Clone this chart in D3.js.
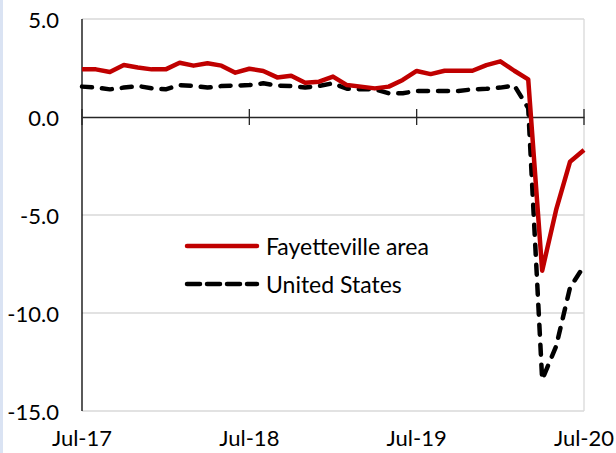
<!DOCTYPE html>
<html><head><meta charset="utf-8">
<script src="https://cdn.jsdelivr.net/npm/d3@7"></script>
<style>body{margin:0;background:#fff}svg{display:block}text{font-family:Lato,"Open Sans",sans-serif;fill:#000}</style>
</head><body><svg id="c" width="616" height="453"></svg>
<script>
const months = ["Jul-17","Aug-17","Sep-17","Oct-17","Nov-17","Dec-17","Jan-18","Feb-18","Mar-18","Apr-18","May-18","Jun-18",
"Jul-18","Aug-18","Sep-18","Oct-18","Nov-18","Dec-18","Jan-19","Feb-19","Mar-19","Apr-19","May-19","Jun-19",
"Jul-19","Aug-19","Sep-19","Oct-19","Nov-19","Dec-19","Jan-20","Feb-20","Mar-20","Apr-20","May-20","Jun-20","Jul-20"];
const fayetteville = [2.43,2.43,2.30,2.65,2.53,2.43,2.43,2.77,2.62,2.74,2.62,2.26,2.46,2.35,2.02,2.11,1.75,1.80,2.06,1.63,
1.55,1.46,1.55,1.89,2.35,2.19,2.36,2.36,2.36,2.65,2.84,2.36,1.92,-7.84,-4.74,-2.28,-1.68];
const unitedStates = [1.55,1.50,1.41,1.50,1.58,1.47,1.41,1.63,1.58,1.50,1.58,1.60,1.63,1.72,1.60,1.58,1.51,1.58,1.72,1.44,
1.41,1.41,1.21,1.21,1.33,1.33,1.33,1.33,1.41,1.44,1.50,1.61,0.45,-13.4,-11.7,-8.7,-7.6];
const yTicks = [5,0,-5,-10,-15];
const xTickLabels = ["Jul-17","Jul-18","Jul-19","Jul-20"];
const seriesNames = ["Fayetteville area","United States"];

const svg = d3.select("#c");
const L=82, R=584, T=19, B=411;
svg.append("rect").attr("x",0).attr("y",0).attr("width",3).attr("height",453).attr("fill","#dae3f3");

const x = d3.scalePoint().domain(months).range([L,R]);
const y = d3.scaleLinear().domain([-15,5]).range([B,T]);

// gridlines
svg.append("g").selectAll("line").data(yTicks.filter(d=>d!==0)).join("line")
  .attr("x1",L).attr("x2",R).attr("y1",d=>y(d)).attr("y2",d=>y(d))
  .attr("stroke","#d9d9d9").attr("stroke-width",1.3);
svg.append("line").attr("x1",R).attr("x2",R).attr("y1",T).attr("y2",B).attr("stroke","#d9d9d9").attr("stroke-width",1.3);

// y labels
svg.append("g").selectAll("text").data(yTicks).join("text")
  .attr("x",59).attr("y",d=>y(d)).attr("text-anchor","end").attr("dominant-baseline","central")
  .style("font-size","22px").text(d=>d.toFixed(1));

// y axis
svg.append("line").attr("x1",L).attr("x2",L).attr("y1",T).attr("y2",B).attr("stroke","#000").attr("stroke-width",1.3);

// x axis at zero
const xAxis = d3.axisBottom(x).tickValues(xTickLabels).tickSize(0).tickFormat("");
const gx = svg.append("g").attr("transform",`translate(0,${y(0)})`).call(xAxis);
gx.select(".domain").attr("stroke","#262626").attr("stroke-width",1.3);
svg.append("g").selectAll("line").data(xTickLabels).join("line")
  .attr("x1",d=>x(d)).attr("x2",d=>x(d)).attr("y1",y(0)-8).attr("y2",y(0)+8)
  .attr("stroke","#262626").attr("stroke-width",1.3);
svg.append("g").selectAll("text").data(xTickLabels).join("text")
  .attr("x",d=>x(d)).attr("y",446).attr("text-anchor","middle").style("font-size","22px").text(d=>d);

const line = d3.line().x((d,i)=>x(months[i])).y(d=>y(d));
svg.append("path").datum(unitedStates).attr("d",line).attr("fill","none").attr("stroke","#000")
  .attr("stroke-width",4.5).attr("stroke-dasharray","10,10").attr("stroke-linecap","round").attr("stroke-linejoin","round");
svg.append("path").datum(fayetteville).attr("d",line).attr("fill","none").attr("stroke","#c00000")
  .attr("stroke-width",4.5).attr("stroke-linejoin","round");

// legend
const lg = svg.append("g");
lg.append("line").attr("x1",187).attr("x2",257).attr("y1",246).attr("y2",246).attr("stroke","#c00000").attr("stroke-width",4.5).attr("stroke-linecap","round");
lg.append("line").attr("x1",187).attr("x2",257).attr("y1",284).attr("y2",284).attr("stroke","#000").attr("stroke-width",4.5)
  .attr("stroke-dasharray","13,7").attr("stroke-linecap","round");
lg.selectAll("text").data(seriesNames).join("text").attr("x",266).attr("y",(d,i)=>246+i*38)
  .attr("dominant-baseline","central").style("font-size","23px").text(d=>d);
</script></body></html>
